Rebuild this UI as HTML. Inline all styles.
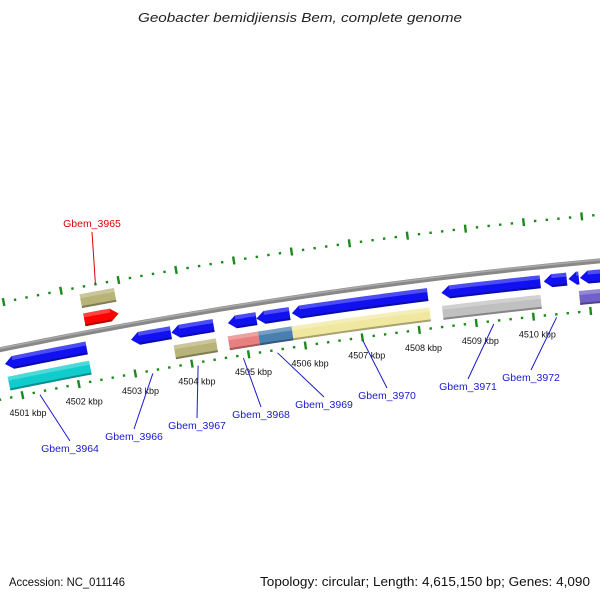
<!DOCTYPE html>
<html><head><meta charset="utf-8"><style>
html,body{margin:0;padding:0;background:#fff;}
svg{display:block;font-family:"Liberation Sans","DejaVu Sans",sans-serif;}
</style></head><body>
<svg id="map" width="600" height="600" viewBox="0 0 600 600" xmlns="http://www.w3.org/2000/svg">
<text x="138" y="22" textLength="324" lengthAdjust="spacingAndGlyphs" font-size="13" font-style="italic" fill="#222">Geobacter bemidjiensis Bem, complete genome</text>
<g id="ticks"></g>
<path id="backbone" fill="none" stroke="#888" stroke-width="5"/>
<path id="backbone-hl" fill="none" stroke="#aaa" stroke-width="1.5"/>
<g id="features"></g>
<g id="kbplabels"></g>
<g id="genelabels"></g>
<text x="9" y="586" textLength="116" lengthAdjust="spacingAndGlyphs" font-size="12" fill="#111">Accession: NC_011146</text>
<text x="260" y="586" textLength="330" lengthAdjust="spacingAndGlyphs" font-size="12.5" fill="#111">Topology: circular; Length: 4,615,150 bp; Genes: 4,090</text>
</svg>
<script>
// ---- data ----
const featStart = [4500.81,4503.03,4503.74,4504.73,4505.23,4505.85,4508.46,4510.24,4510.67,4510.87, 4500.81,4503.74,4504.69,4505.22,4505.81,4508.44,4510.83, 4502.30,4502.30];
const featEnd   = [4502.25,4503.73,4504.48,4505.23,4505.81,4508.22,4510.18,4510.64,4510.85,4511.43, 4502.25,4504.48,4505.22,4505.81,4508.22,4510.16,4511.40, 4502.90,4502.90];
const featRing  = ['revCDS','revCDS','revCDS','revCDS','revCDS','revCDS','revCDS','revCDS','revCDS','revCDS','revCOG','revCOG','revCOG','revCOG','revCOG','revCOG','revCOG','fwdCDS','fwdCOG'];
const featColor = ['#1010f0','#1010f0','#1010f0','#1010f0','#1010f0','#1010f0','#1010f0','#1010f0','#1010f0','#1010f0','#10cccc','#b8b378','#e88080','#4a7fb0','#f0e8a0','#c0c0c0','#7060c8','#ff0000','#b8b378'];
const featArrow = ['L','L','L','L','L','L','L','L','L','L','N','N','N','N','N','N','N','R','N'];
const tickStart = 4499.4;
const tickEnd = 4512.0;
const kbpLabels = [4501,4502,4503,4504,4505,4506,4507,4508,4509,4510];
const geneNames = ['Gbem_3965','Gbem_3964','Gbem_3966','Gbem_3967','Gbem_3968','Gbem_3969','Gbem_3970','Gbem_3971','Gbem_3972'];
const geneKbp   = [4502.6,4501.3,4503.3,4504.1,4504.9,4505.5,4507.0,4509.3,4510.4];
const geneColor = ['#e00000','#1a1acc','#1a1acc','#1a1acc','#1a1acc','#1a1acc','#1a1acc','#1a1acc','#1a1acc'];
const geneTextX = [92,70,134,197,261,324,387,468,531];
const geneTextY = [227,452,440,429,418,408,399,390,381];

// ---- geometry ----
const CX=1100, CY=5708, R=5470, TH0=-0.1577, DTH=0.0106;
const ringOff={revCDS:-15,revCOG:-35,fwdCDS:13,fwdCOG:32};
const ringW={revCDS:13,revCOG:14,fwdCDS:13,fwdCOG:14};
const theta=k=>TH0+(k-4505)*DTH;
const pt=(th,r)=>[CX+r*Math.sin(th), CY-r*Math.cos(th)];
const NS='http://www.w3.org/2000/svg';
const f=n=>n.toFixed(2);
function arcPts(t0,t1,r,n){const a=[];for(let i=0;i<=n;i++){a.push(pt(t0+(t1-t0)*i/n,r));}return a;}
function poly(pts){return pts.map(p=>f(p[0])+','+f(p[1])).join(' ');}

// backbone
(function(){const p=arcPts(theta(4499),theta(4512.5),R,60);
const d='M'+p.map(q=>f(q[0])+' '+f(q[1])).join(' L');
document.getElementById('backbone').setAttribute('d',d);
const p2=arcPts(theta(4499),theta(4512.5),R+1.2,60);
document.getElementById('backbone-hl').setAttribute('d','M'+p2.map(q=>f(q[0])+' '+f(q[1])).join(' L'));})();

// ticks
(function(){const g=document.getElementById('ticks');
const n=Math.round((tickEnd-tickStart)/0.2);
for(let i=0;i<=n;i++){const k=tickStart+i*0.2;const major=Math.abs(k-Math.round(k))<0.01;
 [R-49,R+46].forEach((rr,j)=>{const th=theta(k);const h=major?4:1.2;
  const a=pt(th,rr-h),b=pt(th,rr+h);
  const l=document.createElementNS(NS,'line');
  
  
  l.setAttribute('x1',f(a[0]));l.setAttribute('y1',f(a[1]));l.setAttribute('x2',f(b[0]));l.setAttribute('y2',f(b[1]));
  l.setAttribute('stroke','#1a8a1a');l.setAttribute('stroke-width','2.4');g.appendChild(l);});}})();

// features
(function(){const g=document.getElementById('features');
for(let i=0;i<featStart.length;i++){
 const r=R+ringOff[featRing[i]], w=ringW[featRing[i]];
 let t0=theta(featStart[i]), t1=theta(featEnd[i]);
 const tip=8/r; const ro=r+w/2, ri=r-w/2;
 let pts;
 if(featArrow[i]==='L'){const tb=Math.min(t0+tip,t1);
   pts=[pt(t0,r)].concat(arcPts(tb,t1,ro,8)).concat(arcPts(t1,tb,ri,8));}
 else if(featArrow[i]==='R'){const tb=Math.max(t1-tip,t0);
   pts=arcPts(t0,tb,ro,8).concat([pt(t1,r)]).concat(arcPts(tb,t0,ri,8));}
 else {pts=arcPts(t0,t1,ro,8).concat(arcPts(t1,t0,ri,8));}
 const p=document.createElementNS(NS,'polygon');
 
 
 p.setAttribute('points',poly(pts));p.setAttribute('fill',featColor[i]);g.appendChild(p);
 const a0=featArrow[i]==='L'?Math.min(t0+tip,t1):t0, a1=featArrow[i]==='R'?Math.max(t1-tip,t0):t1;
 const hl=document.createElementNS(NS,'polygon');
 
 
 hl.setAttribute('points',poly(arcPts(a0,a1,ro,6).concat(arcPts(a1,a0,ro-4,6))));
 hl.setAttribute('fill','#fff');hl.setAttribute('fill-opacity','0.25');g.appendChild(hl);
 const sh=document.createElementNS(NS,'polygon');
 
 
 sh.setAttribute('points',poly(arcPts(a0,a1,ri+2,6).concat(arcPts(a1,a0,ri,6))));
 sh.setAttribute('fill','#000');sh.setAttribute('fill-opacity','0.3');g.appendChild(sh);
}})();

// kbp labels
(function(){const g=document.getElementById('kbplabels');
kbpLabels.forEach(k=>{const p=pt(theta(k),R-67);
 const t=document.createElementNS(NS,'text');
 
 
 t.setAttribute('x',f(p[0]+2));t.setAttribute('y',f(p[1]+3));t.setAttribute('text-anchor','middle');
 t.setAttribute('font-size','9');t.setAttribute('fill','#111');t.textContent=k+' kbp';g.appendChild(t);});})();

// gene labels
(function(){const g=document.getElementById('genelabels');
geneNames.forEach((nm,i)=>{const fwd=i===0;
 const a=pt(theta(geneKbp[i]),fwd?R+46:R-52);
 const l=document.createElementNS(NS,'line');
 
 
 l.setAttribute('x1',f(a[0]));l.setAttribute('y1',f(a[1]));
 l.setAttribute('x2',geneTextX[i]);l.setAttribute('y2',fwd?geneTextY[i]+5:geneTextY[i]-11);
 l.setAttribute('stroke',geneColor[i]);l.setAttribute('stroke-width','1');g.appendChild(l);
 const t=document.createElementNS(NS,'text');
 
 
 t.setAttribute('x',geneTextX[i]);t.setAttribute('y',geneTextY[i]);t.setAttribute('text-anchor','middle');
 t.setAttribute('font-size','10.5');t.setAttribute('fill',geneColor[i]);t.textContent=nm;g.appendChild(t);});})();
</script>
</body></html>
